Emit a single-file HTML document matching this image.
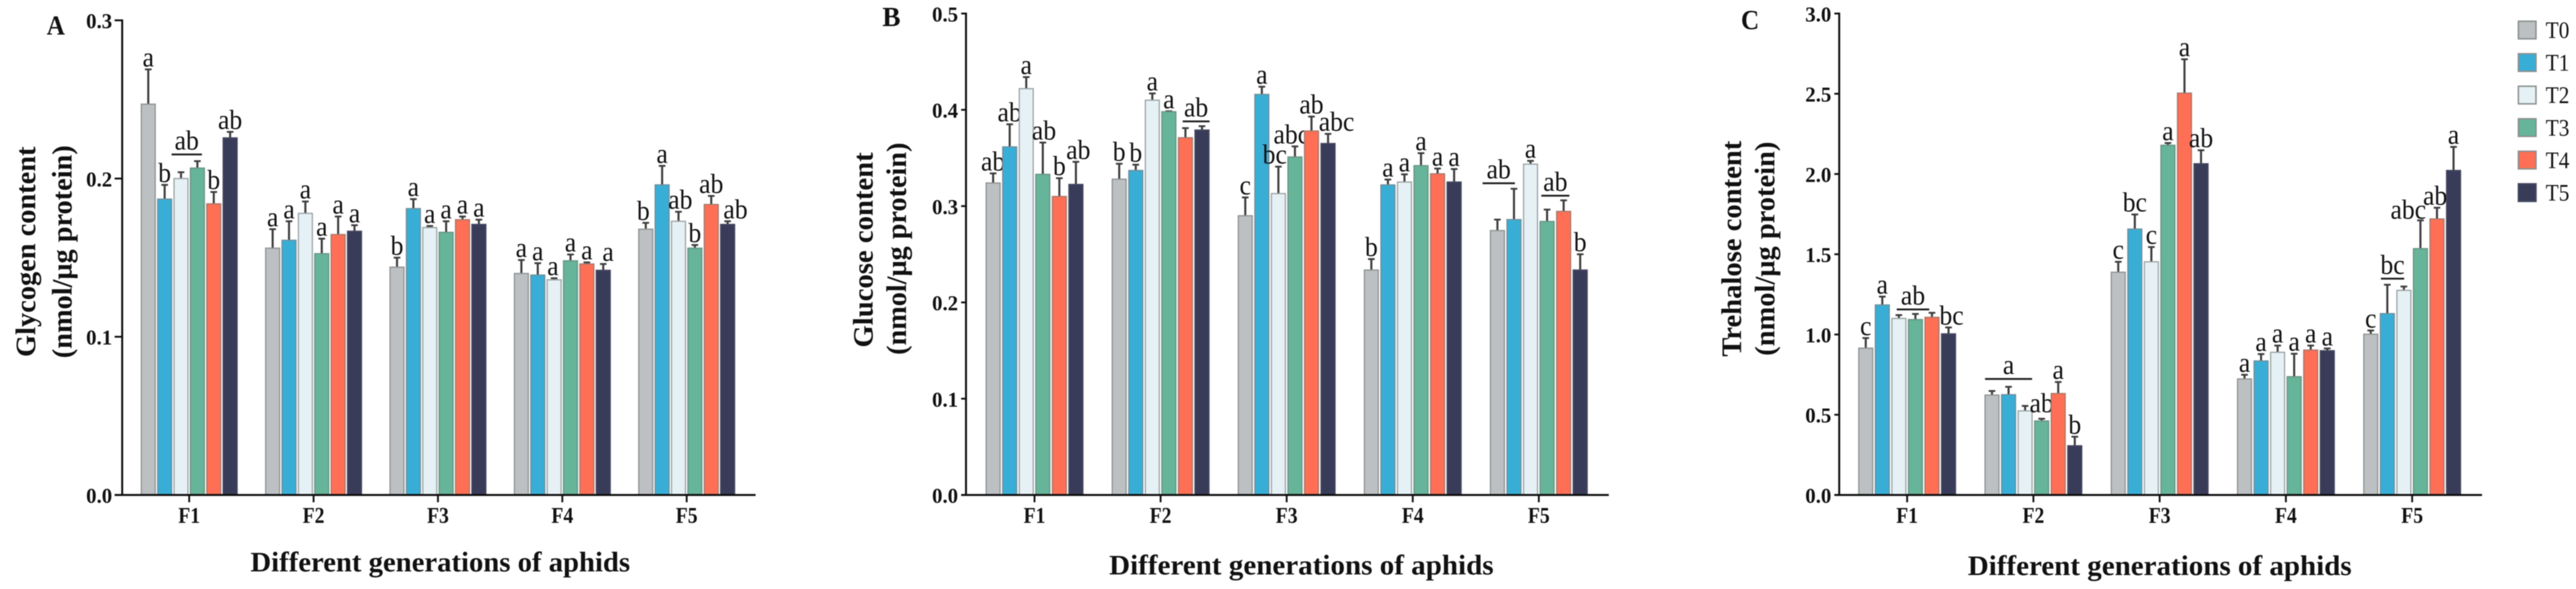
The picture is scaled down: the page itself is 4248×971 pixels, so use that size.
<!DOCTYPE html>
<html lang="en">
<head>
<meta charset="utf-8">
<title>Glycogen, glucose and trehalose content across aphid generations</title>
<style>
html,body{margin:0;padding:0;background:#fff;}
#figure{display:block;width:4248px;height:971px;background:#fff;filter:blur(0.7px);}
text{font-family:"Liberation Serif",serif;fill:#111;}
</style>
</head>
<body>
<svg id="figure" xmlns="http://www.w3.org/2000/svg" width="4248" height="971" viewBox="0 0 4248 971"></svg>
<script>
const categories = ['F1','F2','F3','F4','F5'];
const seriesNames = ['T0','T1','T2','T3','T4','T5'];

const glycogenTicks = [0, 0.1, 0.2, 0.3];
const glycogenMeans = [
  [0.247,0.187,0.200,0.2066,0.184,0.2257],
  [0.156,0.161,0.178,0.1525,0.1646,0.1667],
  [0.144,0.181,0.169,0.166,0.174,0.171],
  [0.140,0.139,0.136,0.148,0.146,0.142],
  [0.168,0.196,0.173,0.156,0.1836,0.171]
];
const glycogenUpper = [
  [0.269,0.196,0.204,0.211,0.1915,0.2295],
  [0.168,0.173,0.1855,0.162,0.176,0.1705],
  [0.150,0.187,0.170,0.173,0.176,0.174],
  [0.1485,0.1465,0.137,0.152,0.147,0.146],
  [0.172,0.208,0.179,0.158,0.189,0.173]
];
const glycogenLetters = [
  ['a','b','','','b','ab'],
  ['a','a','a','a','a','a'],
  ['b','a','a','a','a','a'],
  ['a','a','a','a','a','a'],
  ['b','a','ab','b','ab','ab']
];
const glycogenSpans = [
  {category:0, fromBar:2, toBar:3, value:0.2152, label:'ab'}
];

const glucoseTicks = [0, 0.1, 0.2, 0.3, 0.4, 0.5];
const glucoseMeans = [
  [0.324,0.3615,0.422,0.333,0.310,0.3225],
  [0.328,0.337,0.410,0.398,0.371,0.379],
  [0.290,0.416,0.313,0.351,0.378,0.365],
  [0.2336,0.322,0.325,0.342,0.3335,0.325],
  [0.2746,0.286,0.3436,0.284,0.2945,0.2336]
];
const glucoseUpper = [
  [0.334,0.385,0.434,0.366,0.329,0.346],
  [0.344,0.343,0.417,0.3985,0.381,0.383],
  [0.309,0.424,0.341,0.362,0.393,0.375],
  [0.245,0.3276,0.333,0.355,0.339,0.3385],
  [0.286,0.318,0.347,0.2964,0.306,0.25]
];
const glucoseLetters = [
  ['ab','ab','a','ab','b','ab'],
  ['b','b','a','a','',''],
  ['c','a','bc','abc','ab','abc'],
  ['b','a','a','a','a','a'],
  ['','','a','','','b']
];
const glucoseSpans = [
  {category:1, fromBar:4, toBar:5, value:0.388, label:'ab'},
  {category:4, fromBar:0, toBar:1, value:0.3237, label:'ab'},
  {category:4, fromBar:3, toBar:4, value:0.3108, label:'ab'}
];

const trehaloseTicks = [0, 0.5, 1.0, 1.5, 2.0, 2.5, 3.0];
const trehaloseMeans = [
  [0.915,1.184,1.10,1.093,1.107,1.004],
  [0.6225,0.625,0.524,0.461,0.632,0.3066],
  [1.388,1.657,1.453,2.179,2.504,2.064],
  [0.723,0.835,0.889,0.737,0.903,0.899],
  [1.002,1.13,1.275,1.535,1.72,2.022]
];
const trehaloseUpper = [
  [0.978,1.236,1.121,1.128,1.135,1.044],
  [0.648,0.674,0.555,0.475,0.704,0.363],
  [1.453,1.748,1.545,2.193,2.715,2.148],
  [0.749,0.878,0.931,0.88,0.931,0.913],
  [1.025,1.31,1.299,1.711,1.79,2.169]
];
const trehaloseLetters = [
  ['c','a','','','','bc'],
  ['','','','ab','a','b'],
  ['c','bc','c','a','a','ab'],
  ['a','a','a','a','a','a'],
  ['c','','','abc','ab','a']
];
const trehaloseSpans = [
  {category:0, fromBar:2, toBar:4, value:1.156, label:'ab'},
  {category:1, fromBar:0, toBar:2, value:0.723, label:'a'},
  {category:4, fromBar:1, toBar:2, value:1.348, label:'bc'}
];

/* ---------- layout and style (not data) ---------- */
const fills = ['#bcc0c2','#38aed6','#e6f1f5','#66b499','#fe6f55','#393c59'];
const strokes = ['#8f9292','#6f8f9c','#9aa3a5','#6a9484','#a8796c','#454860'];
const baseY = 816, barW = 23;
const letterFont = 46;
const svg = document.getElementById('figure');
const NS = 'http://www.w3.org/2000/svg';

const panels = [
  {id:'a', letter:'A', letterX:77, letterY:57, top:33.5, axisX:201.5, axisL:189, axisR:1246, first:312, step:205.1, pitch:27,
   ticks:glycogenTicks, dec:1, means:glycogenMeans, upper:glycogenUpper, letters:glycogenLetters, spans:glycogenSpans,
   label1:'Glycogen content', l1x:58, l1c:415, l1len:347, label2:'(nmol/μg protein)', l2x:118, l2c:415, l2len:351,
   tickRight:185, title:[413,626,942],
   letterNudge:{'3-5':[8,0],'4-0':[-4,0],'4-2':[3,0],'4-5':[13,0],'3-2':[-2,0]}, spanNudge:{'0-2':[-4,-4]}},
  {id:'b', letter:'B', letterX:1455, letterY:43, top:22.3, axisX:1593, axisL:1585, axisR:2653, first:1706, step:207.9, pitch:27.3,
   ticks:glucoseTicks, dec:1, means:glucoseMeans, upper:glucoseUpper, letters:glucoseLetters, spans:glucoseSpans,
   label1:'Glucose content', l1x:1439, l1c:412, l1len:322, label2:'(nmol/μg protein)', l2x:1494, l2c:410, l2len:350,
   tickRight:1580, title:[1829,634,947],
   letterNudge:{'0-3':[2,0],'0-5':[4,0],'2-2':[-6,0],'2-3':[-6,0],'2-5':[14,0]},
   spanNudge:{'1-4':[7,1],'4-0':[-13,-10],'4-3':[2,-2]}},
  {id:'c', letter:'C', letterX:2871, letterY:48, top:22.3, axisX:3033, axisL:3025, axisR:4093, first:3145, step:208.2, pitch:27.3,
   ticks:trehaloseTicks, dec:1, means:trehaloseMeans, upper:trehaloseUpper, letters:trehaloseLetters, spans:trehaloseSpans,
   label1:'Trehalose content', l1x:2871, l1c:410, l1len:356, label2:'(nmol/μg protein)', l2x:2926, l2c:410, l2len:353,
   tickRight:3020, title:[3245,633,948],
   letterNudge:{'0-5':[5,0],'1-3':[0,-6],'4-3':[-20,2],'4-4':[-3,0]}, spanNudge:{'0-2':[8,-16],'4-1':[1,-11]}}
];

function mk(tag, attrs, name, interact, parent){
  const el = document.createElementNS(NS, tag);
  for (const k in attrs) el.setAttribute(k, attrs[k]);
  
  
  (parent || svg).appendChild(el);
  return el;
}
function txt(str, attrs, name, parent){
  const el = mk('text', attrs, name, false, parent);
  el.textContent = str;
  return el;
}
/* condensed width of a significance letter string */
function letterLen(s){
  let w = 0;
  for (const ch of s) w += (ch === 'b') ? 0.5 : 0.444;
  return (w * letterFont * 0.92).toFixed(1);
}

panels.forEach(function(p){
  const g = mk('g', {}, 'panel-' + p.id, false);
  const maxV = p.ticks[p.ticks.length - 1];
  const y = function(v){ return baseY - (v / maxV) * (baseY - p.top); };
  const catX = function(c){ return p.first + c * p.step; };
  const barX = function(c, s){ return catX(c) + (s - 2.5) * p.pitch; };

  /* bars and error bars */
  categories.forEach(function(cat, c){
    const grp = mk('g', {}, 'group-' + cat, false, g);
    seriesNames.forEach(function(ser, s){
      const cx = barX(c, s), top = y(p.means[c][s]), up = y(p.upper[c][s]);
      mk('line', {x1:cx, x2:cx, y1:top, y2:up, stroke:'#3c3c3c', 'stroke-width':3.4}, 'error-stem-' + cat + '-' + ser, false, grp);
      mk('line', {x1:cx-5.5, x2:cx+5.5, y1:up, y2:up, stroke:'#3c3c3c', 'stroke-width':3}, 'error-cap-' + cat + '-' + ser, false, grp);
      mk('rect', {x:cx-barW/2, y:top, width:barW, height:baseY-top, fill:fills[s], stroke:strokes[s], 'stroke-width':2}, 'bar-' + cat + '-' + ser, false, grp);
      const lab = p.letters[c][s];
      if (lab){
        const n = p.letterNudge[c + '-' + s] || [0,0];
        txt(lab, {x:cx+n[0], y:up-5+n[1], 'font-size':letterFont, 'text-anchor':'middle', textLength:letterLen(lab), lengthAdjust:'spacingAndGlyphs'}, 'significance-' + cat + '-' + ser, grp);
      }
    });
  });

  /* shared significance brackets */
  p.spans.forEach(function(sp, i){
    const n = p.spanNudge[sp.category + '-' + sp.fromBar] || [0,0];
    const x1 = barX(sp.category, sp.fromBar) - barW/2 + n[0];
    const x2 = barX(sp.category, sp.toBar) + barW/2 + n[1];
    const ly = y(sp.value);
    mk('line', {x1:x1, x2:x2, y1:ly, y2:ly, stroke:'#1a1a1a', 'stroke-width':3}, 'significance-line-' + i, false, g);
    txt(sp.label, {x:(x1+x2)/2, y:ly-8, 'font-size':letterFont, 'text-anchor':'middle', textLength:letterLen(sp.label), lengthAdjust:'spacingAndGlyphs'}, 'significance-line-label-' + i, g);
  });

  /* axes */
  mk('line', {x1:p.axisX, x2:p.axisX, y1:p.top-1.5, y2:baseY+1.5, stroke:'#0d0d0d', 'stroke-width':3.2}, 'y-axis', false, g);
  mk('line', {x1:p.axisL, x2:p.axisR, y1:baseY, y2:baseY, stroke:'#0d0d0d', 'stroke-width':3.2}, 'x-axis', false, g);
  p.ticks.forEach(function(t){
    const ty = y(t);
    mk('line', {x1:p.axisL, x2:p.axisX, y1:ty, y2:ty, stroke:'#0d0d0d', 'stroke-width':3}, 'y-tick', false, g);
    txt(t.toFixed(p.dec), {x:p.tickRight, y:ty+13, 'font-size':35, 'font-weight':'bold', 'text-anchor':'end', textLength:43, lengthAdjust:'spacingAndGlyphs'}, 'y-tick-label', g);
  });
  categories.forEach(function(cat, c){
    const cx = catX(c);
    mk('line', {x1:cx, x2:cx, y1:baseY, y2:baseY+12, stroke:'#0d0d0d', 'stroke-width':3}, 'x-tick-' + cat, false, g);
    txt(cat, {x:cx, y:862, 'font-size':37, 'font-weight':'bold', 'text-anchor':'middle', textLength:36, lengthAdjust:'spacingAndGlyphs'}, 'x-tick-label-' + cat, g);
  });

  /* titles */
  txt(p.letter, {x:p.letterX, y:p.letterY, 'font-size':46, 'font-weight':'bold', textLength:30, lengthAdjust:'spacingAndGlyphs'}, 'panel-letter-' + p.id, g);
  txt(p.label1, {x:0, y:0, transform:'translate(' + p.l1x + ' ' + p.l1c + ') rotate(-90)', 'font-size':47, 'font-weight':'bold', 'text-anchor':'middle', textLength:p.l1len, lengthAdjust:'spacingAndGlyphs'}, 'y-axis-title-line-1', g);
  txt(p.label2, {x:0, y:0, transform:'translate(' + p.l2x + ' ' + p.l2c + ') rotate(-90)', 'font-size':47, 'font-weight':'bold', 'text-anchor':'middle', textLength:p.l2len, lengthAdjust:'spacingAndGlyphs'}, 'y-axis-title-line-2', g);
  txt('Different generations of aphids', {x:p.title[0], y:p.title[2], 'font-size':47, 'font-weight':'bold', textLength:p.title[1], lengthAdjust:'spacingAndGlyphs'}, 'x-axis-title', g);
});

/* legend */
const legend = mk('g', {}, 'legend', false);
seriesNames.forEach(function(ser, s){
  const ly = 35 + s * 53.6;
  mk('rect', {x:4153, y:ly, width:29, height:29, fill:fills[s], stroke:s === 5 ? strokes[5] : '#8a8f8f', 'stroke-width':2.4}, 'legend-swatch-' + ser, false, legend);
  txt(ser, {x:4198, y:ly+27.5, 'font-size':39, textLength:39, lengthAdjust:'spacingAndGlyphs'}, 'legend-label-' + ser, legend);
});
</script>
</body>
</html>
